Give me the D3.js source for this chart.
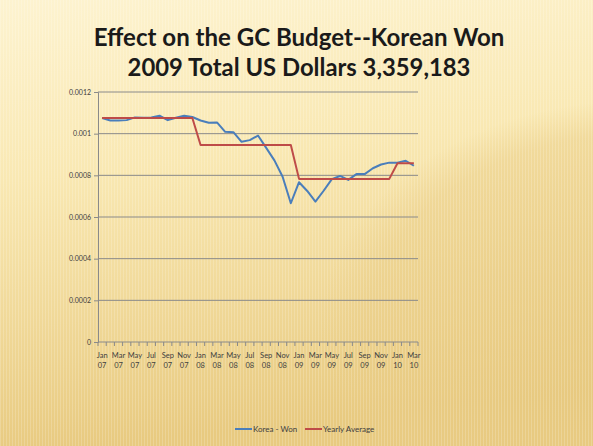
<!DOCTYPE html>
<html>
<head>
<meta charset="utf-8">
<script src="https://cdn.jsdelivr.net/npm/d3@7"></script>
<style>
  html, body { margin: 0; padding: 0; }
  svg { display: block; }
</style>
</head>
<body>
<svg id="chart" width="593" height="446"></svg>
<script>
// chart data
var categories = [
  "Jan 07","Feb 07","Mar 07","Apr 07","May 07","Jun 07","Jul 07","Aug 07","Sep 07","Oct 07","Nov 07","Dec 07",
  "Jan 08","Feb 08","Mar 08","Apr 08","May 08","Jun 08","Jul 08","Aug 08","Sep 08","Oct 08","Nov 08","Dec 08",
  "Jan 09","Feb 09","Mar 09","Apr 09","May 09","Jun 09","Jul 09","Aug 09","Sep 09","Oct 09","Nov 09","Dec 09",
  "Jan 10","Feb 10","Mar 10"
];
var koreaWon = [
  0.001075, 0.001063, 0.001063, 0.001065, 0.001078, 0.001076, 0.001078, 0.001086, 0.001065, 0.001076, 0.001086, 0.001080,
  0.001063, 0.001052, 0.001054, 0.001009, 0.001007, 0.000961, 0.000969, 0.000991, 0.000932, 0.000872, 0.000793, 0.000666,
  0.000767, 0.000725, 0.000674, 0.000726, 0.000782, 0.000797, 0.000778, 0.000806, 0.000806, 0.000834, 0.000852, 0.000861,
  0.000861, 0.000870, 0.000846
];
var yearlyAverage = [
  0.001075, 0.001075, 0.001075, 0.001075, 0.001075, 0.001075, 0.001075, 0.001075, 0.001075, 0.001075, 0.001075, 0.001075,
  0.000946, 0.000946, 0.000946, 0.000946, 0.000946, 0.000946, 0.000946, 0.000946, 0.000946, 0.000946, 0.000946, 0.000946,
  0.000783, 0.000783, 0.000783, 0.000783, 0.000783, 0.000783, 0.000783, 0.000783, 0.000783, 0.000783, 0.000783, 0.000783,
  0.000858, 0.000858, 0.000858
];
var yTicks = [0, 0.0002, 0.0004, 0.0006, 0.0008, 0.001, 0.0012];
var yTickLabels = ["0", "0.0002", "0.0004", "0.0006", "0.0008", "0.001", "0.0012"];
var seriesNames = ["Korea - Won", "Yearly Average"];
var titleLines = ["Effect on the GC Budget--Korean Won", "2009 Total US Dollars 3,359,183"];

var W = 593, H = 446;
var margin = { top: 92, right: 175, bottom: 104, left: 98 };
var width = W - margin.left - margin.right;
var height = H - margin.top - margin.bottom;
var colors = ["#4a7ebb", "#be4b48"];
var textFont = "Lato, 'Open Sans', sans-serif";

var svg = d3.select("#chart");
var defs = svg.append("defs");

// slide background
var bg = defs.append("linearGradient").attr("id", "bg").attr("x1", 0).attr("y1", 0).attr("x2", 0.15).attr("y2", 1);
bg.append("stop").attr("offset", "0%").attr("stop-color", "#fdf3d0");
bg.append("stop").attr("offset", "40%").attr("stop-color", "#f9e8b2");
bg.append("stop").attr("offset", "100%").attr("stop-color", "#e8ca80");

var blob = defs.append("radialGradient").attr("id", "blob");
blob.append("stop").attr("offset", "0%").attr("stop-color", "#e6c77c").attr("stop-opacity", 0.55);
blob.append("stop").attr("offset", "85%").attr("stop-color", "#e9cc85").attr("stop-opacity", 0.45);
blob.append("stop").attr("offset", "100%").attr("stop-color", "#e9cc85").attr("stop-opacity", 0);

var stripes = defs.append("pattern").attr("id", "stripes")
  .attr("width", 3).attr("height", 10).attr("patternUnits", "userSpaceOnUse");
stripes.append("rect").attr("width", 1).attr("height", 10).attr("fill", "#ffffff").attr("opacity", 0.18);

svg.append("rect").attr("width", W).attr("height", H).attr("fill", "url(#bg)");
svg.append("ellipse").attr("cx", 640).attr("cy", 330).attr("rx", 320).attr("ry", 230).attr("fill", "url(#blob)");
svg.append("rect").attr("width", W).attr("height", H).attr("fill", "url(#stripes)");

// title, sized to the reference widths
var titleSpecs = [{ y: 46, w: 411 }, { y: 76, w: 343 }];
titleLines.forEach(function (t, i) {
  var txt = svg.append("text")
    .attr("x", 299).attr("y", titleSpecs[i].y)
    .attr("text-anchor", "middle")
    .style("font-family", textFont).style("font-weight", "bold")
    .style("font-size", "24px").style("fill", "#1a1a1a")
    .text(t);
  var len = txt.node().getComputedTextLength();
  txt.style("font-size", (24 * titleSpecs[i].w / len).toFixed(2) + "px");
});

var g = svg.append("g").attr("transform", "translate(" + margin.left + "," + margin.top + ")");

var x = d3.scaleBand().domain(categories).range([0, width]).padding(0);
var y = d3.scaleLinear().domain([0, 0.0012]).range([height, 0]);

// gridlines
g.append("g").selectAll("line").data(yTicks.slice(1)).enter().append("line")
  .attr("x1", 0).attr("x2", width)
  .attr("y1", d => y(d)).attr("y2", d => y(d))
  .attr("stroke", "#8a8a8a").attr("stroke-width", 1);

// y axis
var yAxis = g.append("g")
  .call(d3.axisLeft(y).tickValues(yTicks).tickSize(4)
    .tickFormat((d, i) => yTickLabels[i]));
yAxis.select(".domain").attr("stroke", "#8a8a8a");
yAxis.selectAll(".tick line").attr("stroke", "#8a8a8a");
yAxis.selectAll("text").style("font-family", textFont).style("font-size", "7px")
  .style("fill", "#404040").attr("x", -7);

// x axis with ticks at category boundaries
var xg = g.append("g").attr("transform", "translate(0," + height + ")");
xg.append("line").attr("x1", 0).attr("x2", width).attr("stroke", "#8a8a8a");
var bounds = categories.map(c => x(c)).concat([width]);
xg.selectAll("line.tk").data(bounds).enter().append("line").attr("class", "tk")
  .attr("x1", d => d).attr("x2", d => d).attr("y1", 0).attr("y2", 4)
  .attr("stroke", "#8a8a8a");
var labelCats = categories.filter((c, i) => i % 2 === 0);
var lab = xg.selectAll("text.lb").data(labelCats).enter().append("text").attr("class", "lb")
  .attr("text-anchor", "middle")
  .style("font-family", textFont).style("font-size", "7.5px").style("fill", "#404040");
lab.append("tspan").attr("x", d => x(d) + x.bandwidth() / 2).attr("y", 16).text(d => d.split(" ")[0]);
lab.append("tspan").attr("x", d => x(d) + x.bandwidth() / 2).attr("y", 26).text(d => d.split(" ")[1]);

// lines
var line = d3.line()
  .x((d, i) => x(categories[i]) + x.bandwidth() / 2)
  .y(d => y(d));
[koreaWon, yearlyAverage].forEach(function (s, i) {
  g.append("path").datum(s).attr("d", line)
    .attr("fill", "none").attr("stroke", colors[i])
    .attr("stroke-width", 2).attr("stroke-linejoin", "round");
});

// legend
var legendX = [235, 305];
var legend = svg.append("g").attr("transform", "translate(0,429)");
seriesNames.forEach(function (n, i) {
  legend.append("line").attr("x1", legendX[i]).attr("x2", legendX[i] + 17)
    .attr("stroke", colors[i]).attr("stroke-width", 2);
  legend.append("text").attr("x", legendX[i] + 18).attr("y", 3)
    .style("font-family", textFont).style("font-size", "8px").style("fill", "#404040")
    .text(n);
});
</script>
</body>
</html>
